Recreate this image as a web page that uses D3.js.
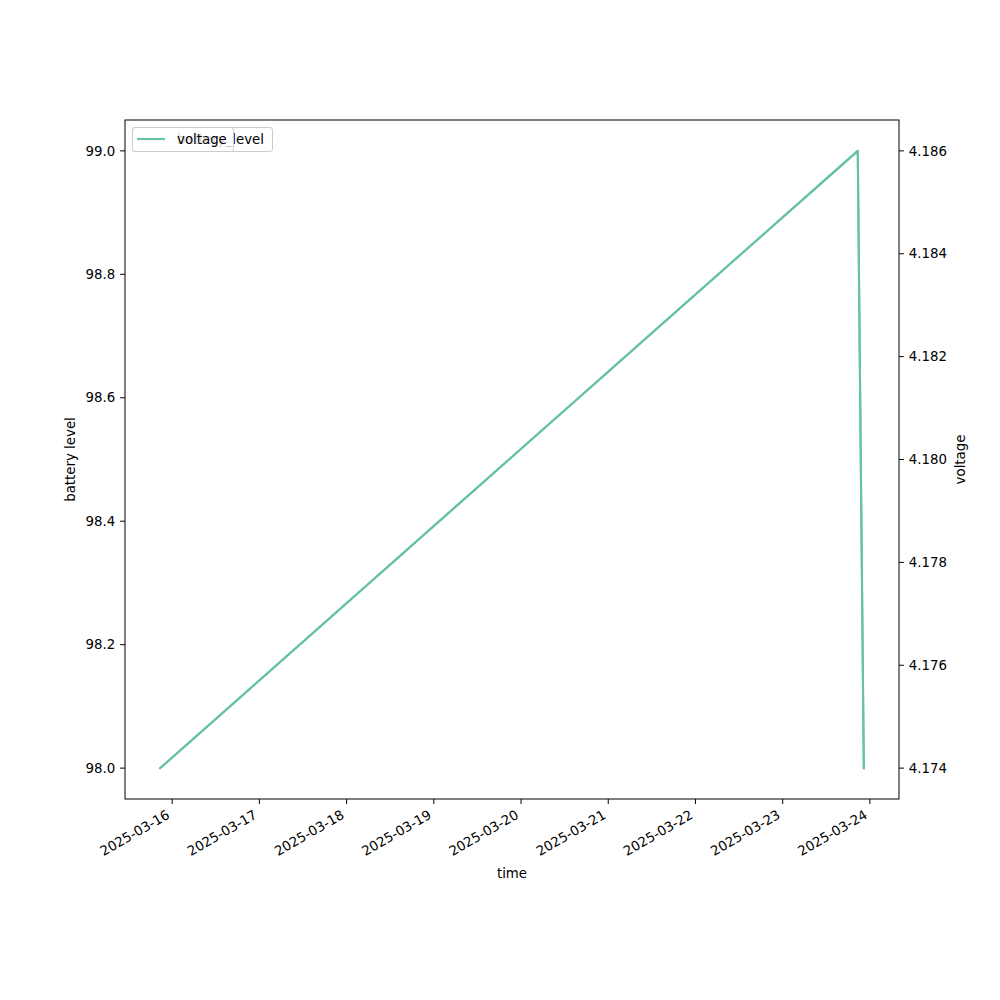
<!DOCTYPE html>
<html><head><meta charset="utf-8">
<script src="https://cdn.jsdelivr.net/npm/d3@7"></script>
<style>body{margin:0;background:#fff}svg{display:block;font-family:"DejaVu Sans",sans-serif}</style>
</head><body><svg id="c" width="1000" height="1000"></svg>
<script>
const times = ["2025-03-15T20:42:00","2025-03-23T20:40:00","2025-03-23T22:20:00"];
const batteryLevel = [98, 99, 98];
const voltage = [4.174, 4.186, 4.174];
const xTicks = ["2025-03-16","2025-03-17","2025-03-18","2025-03-19","2025-03-20","2025-03-21","2025-03-22","2025-03-23","2025-03-24"];
const leftTicks = [98.0, 98.2, 98.4, 98.6, 98.8, 99.0];
const rightTicks = [4.174, 4.176, 4.178, 4.180, 4.182, 4.184, 4.186];

const svg = d3.select("#c");
const L = 125, R = 899, T = 120, B = 799;
const color = "#66c2a5";
const parse = d3.isoParse;
const tdata = times.map(parse);
const tmin = d3.min(tdata), tmax = d3.max(tdata), span = tmax - tmin;
const x = d3.scaleTime().domain([new Date(+tmin - span*0.05), new Date(+tmax + span*0.05)]).range([L, R]);
const yl = d3.scaleLinear().domain([98 - 0.05, 99 + 0.05]).range([B, T]);
const yr = d3.scaleLinear().domain([4.174 - 0.0006, 4.186 + 0.0006]).range([B, T]);

// lines
const lineL = d3.line().x((d,i)=>x(tdata[i])).y(d=>yl(d));
const lineR = d3.line().x((d,i)=>x(tdata[i])).y(d=>yr(d));
svg.append("path").attr("d", lineL(batteryLevel)).attr("fill","none").attr("stroke",color).attr("stroke-width",2.08).attr("stroke-linejoin","round").attr("stroke-linecap","square");
svg.append("path").attr("d", lineR(voltage)).attr("fill","none").attr("stroke",color).attr("stroke-width",2.08).attr("stroke-linejoin","round").attr("stroke-linecap","square");

// frame
svg.append("rect").attr("x",L).attr("y",T).attr("width",R-L).attr("height",B-T).attr("fill","none").attr("stroke","#000").attr("stroke-width",1);

// x axis
const fs = 13.33;
xTicks.forEach(s=>{
  const px = x(parse(s+"T00:00:00"));
  svg.append("line").attr("x1",px).attr("x2",px).attr("y1",B).attr("y2",B+4.9).attr("stroke","#000").attr("stroke-width",1);
  svg.append("text").attr("transform",`translate(${px-1.5},${B+9.8+8.7}) rotate(-30)`).attr("text-anchor","end").attr("font-size",fs).text(s);
});
svg.append("text").attr("x",(L+R)/2).attr("y",878).attr("text-anchor","middle").attr("font-size",fs).text("time");

// left axis
leftTicks.forEach(v=>{
  const py = yl(v);
  svg.append("line").attr("x1",L-4.9).attr("x2",L).attr("y1",py).attr("y2",py).attr("stroke","#000");
  svg.append("text").attr("x",L-9.8).attr("y",py).attr("dy","0.35em").attr("text-anchor","end").attr("font-size",fs).text(d3.format(".1f")(v));
});
svg.append("text").attr("transform",`translate(75,${(T+B)/2}) rotate(-90)`).attr("text-anchor","middle").attr("font-size",fs).text("battery level");

// right axis
rightTicks.forEach(v=>{
  const py = yr(v);
  svg.append("line").attr("x1",R).attr("x2",R+4.9).attr("y1",py).attr("y2",py).attr("stroke","#000");
  svg.append("text").attr("x",R+9.8).attr("y",py).attr("dy","0.35em").attr("text-anchor","start").attr("font-size",fs).text(d3.format(".3f")(v));
});
svg.append("text").attr("transform",`translate(965,${(T+B)/2}) rotate(-90)`).attr("text-anchor","middle").attr("font-size",fs).text("voltage");

// legends (overlapping, as in reference)
function legend(label, w){
  const g = svg.append("g");
  g.append("rect").attr("x",132.5).attr("y",127.5).attr("width",w).attr("height",24).attr("rx",2.5)
    .attr("fill","#fff").attr("fill-opacity",0.8).attr("stroke","#cccccc").attr("stroke-width",1);
  g.append("line").attr("x1",137).attr("x2",165).attr("y1",139).attr("y2",139).attr("stroke",color).attr("stroke-width",2.08);
  g.append("text").attr("x",177).attr("y",139).attr("dy","0.35em").attr("font-size",fs).text(label);
}
legend("battery_level", 140);
legend("voltage", 101);
</script></body></html>
